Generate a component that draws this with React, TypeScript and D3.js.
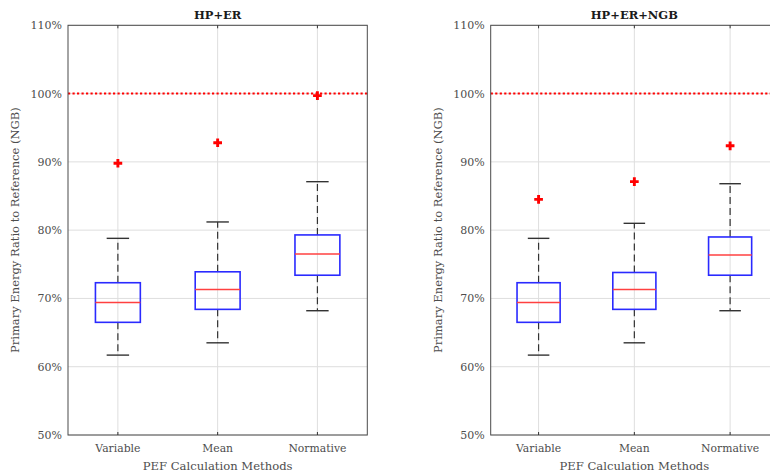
import React, { useEffect, useRef } from "react";
import * as d3 from "d3";

const methods = ["Variable", "Mean", "Normative"];
const panelTitles = ["HP+ER", "HP+ER+NGB"];
const yTicks = [50, 60, 70, 80, 90, 100, 110];

// [lower whisker, Q1, median, Q3, upper whisker] per method, in %
const statsHPER = [
  [61.7, 66.5, 69.4, 72.3, 78.8],
  [63.5, 68.4, 71.3, 73.9, 81.2],
  [68.2, 73.4, 76.5, 79.3, 87.1],
];
const outliersHPER = [89.8, 92.8, 99.7];

const statsHPERNGB = [
  [61.7, 66.5, 69.4, 72.3, 78.8],
  [63.5, 68.4, 71.3, 73.8, 81.0],
  [68.2, 73.4, 76.35, 79.0, 86.8],
];
const outliersHPERNGB = [84.5, 87.1, 92.35];

const referenceLine = 100;

export default function App() {
  const chartRef = useRef<SVGSVGElement>(null);

  useEffect(() => {
    document.body.style.margin = "0";
    const svg = d3.select(chartRef.current);
    svg.selectAll("*").remove();

    const font = "'DejaVu Serif', serif";
    const top = 25.3;
    const bottom = 435;

    const panels = [
      { left: 68, right: 367.3, title: panelTitles[0], stats: statsHPER, outliers: outliersHPER, yLabelX: 19 },
      { left: 490.7, right: 778, title: panelTitles[1], stats: statsHPERNGB, outliers: outliersHPERNGB, yLabelX: 442 },
    ];

    panels.forEach((p) => {
      const g = svg.append("g");
      const x = d3.scaleLinear().domain([0.5, 3.5]).range([p.left, p.right]);
      const y = d3.scaleLinear().domain([50, 110]).range([bottom, top]);
      const unit = x(1) - x(0);
      const boxW = 0.45 * unit;
      const capW = boxW / 2;

      // white background
      g.append("rect")
        .attr("x", p.left)
        .attr("y", top)
        .attr("width", p.right - p.left)
        .attr("height", bottom - top)
        .attr("fill", "#fff");

      // grid
      g.append("g")
        .selectAll("line")
        .data(yTicks)
        .join("line")
        .attr("x1", p.left)
        .attr("x2", p.right)
        .attr("y1", (d) => y(d))
        .attr("y2", (d) => y(d))
        .attr("stroke", "#dedede")
        .attr("stroke-width", 1);
      g.append("g")
        .selectAll("line")
        .data(methods)
        .join("line")
        .attr("x1", (d, i) => x(i + 1))
        .attr("x2", (d, i) => x(i + 1))
        .attr("y1", top)
        .attr("y2", bottom)
        .attr("stroke", "#dedede")
        .attr("stroke-width", 1);

      // reference line
      g.append("line")
        .attr("x1", p.left)
        .attr("x2", p.right)
        .attr("y1", y(referenceLine))
        .attr("y2", y(referenceLine))
        .attr("stroke", "#ff0000")
        .attr("stroke-width", 2)
        .attr("stroke-dasharray", "2.2,2.3");

      // boxes
      const bx = g.append("g").selectAll("g").data(p.stats).join("g");
      bx.append("line")
        .attr("x1", (d, i) => x(i + 1))
        .attr("x2", (d, i) => x(i + 1))
        .attr("y1", (d) => y(d[3]))
        .attr("y2", (d) => y(d[4]))
        .attr("stroke", "#333")
        .attr("stroke-width", 1.2)
        .attr("stroke-dasharray", "7,4");
      bx.append("line")
        .attr("x1", (d, i) => x(i + 1))
        .attr("x2", (d, i) => x(i + 1))
        .attr("y1", (d) => y(d[1]))
        .attr("y2", (d) => y(d[0]))
        .attr("stroke", "#333")
        .attr("stroke-width", 1.2)
        .attr("stroke-dasharray", "7,4");
      [0, 4].forEach((k) => {
        bx.append("line")
          .attr("x1", (d, i) => x(i + 1) - capW / 2)
          .attr("x2", (d, i) => x(i + 1) + capW / 2)
          .attr("y1", (d) => y(d[k]))
          .attr("y2", (d) => y(d[k]))
          .attr("stroke", "#333")
          .attr("stroke-width", 1.4);
      });
      bx.append("rect")
        .attr("x", (d, i) => x(i + 1) - boxW / 2)
        .attr("y", (d) => y(d[3]))
        .attr("width", boxW)
        .attr("height", (d) => y(d[1]) - y(d[3]))
        .attr("fill", "none")
        .attr("stroke", "#2a2aff")
        .attr("stroke-width", 1.6);
      bx.append("line")
        .attr("x1", (d, i) => x(i + 1) - boxW / 2)
        .attr("x2", (d, i) => x(i + 1) + boxW / 2)
        .attr("y1", (d) => y(d[2]))
        .attr("y2", (d) => y(d[2]))
        .attr("stroke", "#ff4040")
        .attr("stroke-width", 1.5);

      // outliers
      const plus = d3.symbol().type(d3.symbolCross).size(42);
      g.append("g")
        .selectAll("path")
        .data(p.outliers)
        .join("path")
        .attr("d", plus)
        .attr("transform", (d, i) => `translate(${x(i + 1)},${y(d)})`)
        .attr("fill", "#ff0000");

      // axes box
      g.append("rect")
        .attr("x", p.left)
        .attr("y", top)
        .attr("width", p.right - p.left)
        .attr("height", bottom - top)
        .attr("fill", "none")
        .attr("stroke", "#4a4a4a")
        .attr("stroke-width", 1);

      // ticks
      g.append("g")
        .selectAll("line")
        .data(methods)
        .join("line")
        .attr("x1", (d, i) => x(i + 1))
        .attr("x2", (d, i) => x(i + 1))
        .attr("y1", bottom)
        .attr("y2", bottom - 3)
        .attr("stroke", "#333");
      g.append("g")
        .selectAll("line")
        .data(methods)
        .join("line")
        .attr("x1", (d, i) => x(i + 1))
        .attr("x2", (d, i) => x(i + 1))
        .attr("y1", top)
        .attr("y2", top + 3)
        .attr("stroke", "#333");

      // tick labels
      g.append("g")
        .selectAll("text")
        .data(yTicks)
        .join("text")
        .attr("x", p.left - 6)
        .attr("y", (d) => y(d) + 4)
        .attr("text-anchor", "end")
        .attr("font-family", font)
        .attr("font-size", 11)
        .attr("fill", "#4d4d4d")
        .text((d) => `${d}%`);
      g.append("g")
        .selectAll("text")
        .data(methods)
        .join("text")
        .attr("x", (d, i) => x(i + 1))
        .attr("y", bottom + 17)
        .attr("text-anchor", "middle")
        .attr("font-family", font)
        .attr("font-size", 10.8)
        .attr("fill", "#4d4d4d")
        .text((d) => d);

      // labels
      g.append("text")
        .attr("x", x(2))
        .attr("y", bottom + 35)
        .attr("text-anchor", "middle")
        .attr("font-family", font)
        .attr("font-size", 11.6)
        .attr("fill", "#4d4d4d")
        .text("PEF Calculation Methods");
      g.append("text")
        .attr("transform", `translate(${p.yLabelX},${(top + bottom) / 2}) rotate(-90)`)
        .attr("text-anchor", "middle")
        .attr("font-family", font)
        .attr("font-size", 11.5)
        .attr("fill", "#4d4d4d")
        .text("Primary Energy Ratio to Reference (NGB)");
      g.append("text")
        .attr("x", x(2))
        .attr("y", 19)
        .attr("text-anchor", "middle")
        .attr("font-family", font)
        .attr("font-size", 11.5)
        .attr("font-weight", "bold")
        .attr("fill", "#1a1a1a")
        .text(p.title);
    });
  }, []);

  return <svg ref={chartRef} width={770} height={474} style={{ display: "block" }}></svg>;
}
